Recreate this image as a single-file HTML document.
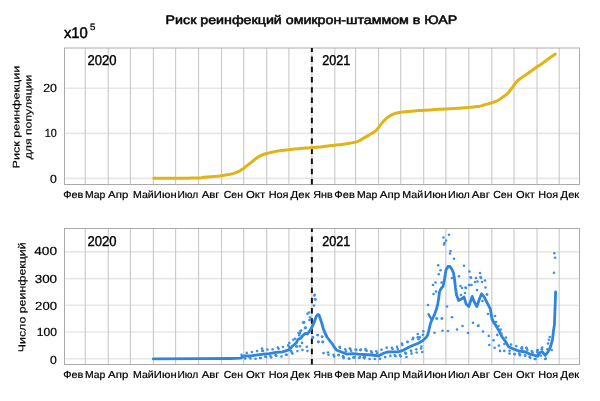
<!DOCTYPE html><html><head><meta charset="utf-8"><style>html,body{margin:0;padding:0;background:#fff;overflow:hidden}svg{display:block;will-change:transform}text{text-rendering:geometricPrecision}</style></head><body><svg xmlns="http://www.w3.org/2000/svg" width="600" height="401" viewBox="0 0 600 401">
<rect width="600" height="401" fill="#fff"/>
<text x="165.6" y="23.8" font-family="'Liberation Sans', 'DejaVu Sans', sans-serif" font-size="12.2" fill="#000" stroke="#111" stroke-width="0.55" textLength="291.6" lengthAdjust="spacingAndGlyphs">Риск реинфекций омикрон-штаммом в ЮАР</text>
<text x="63.9" y="38.1" font-family="'Liberation Sans', Arial, sans-serif" font-size="15.4" fill="#000" stroke="#000" stroke-width="0.45" textLength="24.0" lengthAdjust="spacingAndGlyphs">x10</text>
<text x="90.0" y="30.0" font-family="'Liberation Sans', Arial, sans-serif" font-size="9.4" fill="#000" stroke="#000" stroke-width="0.3" textLength="5.4" lengthAdjust="spacingAndGlyphs">5</text>
<line x1="64.5" y1="178.4" x2="579.5" y2="178.4" stroke="#e8e8e8" stroke-width="1.6"/>
<line x1="64.5" y1="133.35" x2="579.5" y2="133.35" stroke="#e8e8e8" stroke-width="1.6"/>
<line x1="64.5" y1="88.3" x2="579.5" y2="88.3" stroke="#e8e8e8" stroke-width="1.6"/>
<line x1="85.27" y1="48" x2="85.27" y2="184.5" stroke="#c8c8c8" stroke-width="1.1"/>
<line x1="108.23" y1="48" x2="108.23" y2="184.5" stroke="#c8c8c8" stroke-width="1.1"/>
<line x1="130.44" y1="48" x2="130.44" y2="184.5" stroke="#c8c8c8" stroke-width="1.1"/>
<line x1="153.4" y1="48" x2="153.4" y2="184.5" stroke="#c8c8c8" stroke-width="1.1"/>
<line x1="175.62" y1="48" x2="175.62" y2="184.5" stroke="#c8c8c8" stroke-width="1.1"/>
<line x1="198.57" y1="48" x2="198.57" y2="184.5" stroke="#c8c8c8" stroke-width="1.1"/>
<line x1="221.53" y1="48" x2="221.53" y2="184.5" stroke="#c8c8c8" stroke-width="1.1"/>
<line x1="243.74" y1="48" x2="243.74" y2="184.5" stroke="#c8c8c8" stroke-width="1.1"/>
<line x1="266.7" y1="48" x2="266.7" y2="184.5" stroke="#c8c8c8" stroke-width="1.1"/>
<line x1="288.91" y1="48" x2="288.91" y2="184.5" stroke="#c8c8c8" stroke-width="1.1"/>
<line x1="311.87" y1="48" x2="311.87" y2="184.5" stroke="#c8c8c8" stroke-width="1.1"/>
<line x1="334.82" y1="48" x2="334.82" y2="184.5" stroke="#c8c8c8" stroke-width="1.1"/>
<line x1="355.56" y1="48" x2="355.56" y2="184.5" stroke="#c8c8c8" stroke-width="1.1"/>
<line x1="378.51" y1="48" x2="378.51" y2="184.5" stroke="#c8c8c8" stroke-width="1.1"/>
<line x1="400.73" y1="48" x2="400.73" y2="184.5" stroke="#c8c8c8" stroke-width="1.1"/>
<line x1="423.68" y1="48" x2="423.68" y2="184.5" stroke="#c8c8c8" stroke-width="1.1"/>
<line x1="445.9" y1="48" x2="445.9" y2="184.5" stroke="#c8c8c8" stroke-width="1.1"/>
<line x1="468.85" y1="48" x2="468.85" y2="184.5" stroke="#c8c8c8" stroke-width="1.1"/>
<line x1="491.81" y1="48" x2="491.81" y2="184.5" stroke="#c8c8c8" stroke-width="1.1"/>
<line x1="514.02" y1="48" x2="514.02" y2="184.5" stroke="#c8c8c8" stroke-width="1.1"/>
<line x1="536.98" y1="48" x2="536.98" y2="184.5" stroke="#c8c8c8" stroke-width="1.1"/>
<line x1="559.19" y1="48" x2="559.19" y2="184.5" stroke="#c8c8c8" stroke-width="1.1"/>
<rect x="64.5" y="48" width="515" height="136.5" fill="none" stroke="#aaaaaa" stroke-width="1.0"/>
<line x1="64.5" y1="358.75" x2="579.5" y2="358.75" stroke="#e8e8e8" stroke-width="1.6"/>
<line x1="64.5" y1="332.03" x2="579.5" y2="332.03" stroke="#e8e8e8" stroke-width="1.6"/>
<line x1="64.5" y1="305.31" x2="579.5" y2="305.31" stroke="#e8e8e8" stroke-width="1.6"/>
<line x1="64.5" y1="278.59" x2="579.5" y2="278.59" stroke="#e8e8e8" stroke-width="1.6"/>
<line x1="64.5" y1="251.87" x2="579.5" y2="251.87" stroke="#e8e8e8" stroke-width="1.6"/>
<line x1="85.27" y1="228.5" x2="85.27" y2="364.5" stroke="#c8c8c8" stroke-width="1.1"/>
<line x1="108.23" y1="228.5" x2="108.23" y2="364.5" stroke="#c8c8c8" stroke-width="1.1"/>
<line x1="130.44" y1="228.5" x2="130.44" y2="364.5" stroke="#c8c8c8" stroke-width="1.1"/>
<line x1="153.4" y1="228.5" x2="153.4" y2="364.5" stroke="#c8c8c8" stroke-width="1.1"/>
<line x1="175.62" y1="228.5" x2="175.62" y2="364.5" stroke="#c8c8c8" stroke-width="1.1"/>
<line x1="198.57" y1="228.5" x2="198.57" y2="364.5" stroke="#c8c8c8" stroke-width="1.1"/>
<line x1="221.53" y1="228.5" x2="221.53" y2="364.5" stroke="#c8c8c8" stroke-width="1.1"/>
<line x1="243.74" y1="228.5" x2="243.74" y2="364.5" stroke="#c8c8c8" stroke-width="1.1"/>
<line x1="266.7" y1="228.5" x2="266.7" y2="364.5" stroke="#c8c8c8" stroke-width="1.1"/>
<line x1="288.91" y1="228.5" x2="288.91" y2="364.5" stroke="#c8c8c8" stroke-width="1.1"/>
<line x1="311.87" y1="228.5" x2="311.87" y2="364.5" stroke="#c8c8c8" stroke-width="1.1"/>
<line x1="334.82" y1="228.5" x2="334.82" y2="364.5" stroke="#c8c8c8" stroke-width="1.1"/>
<line x1="355.56" y1="228.5" x2="355.56" y2="364.5" stroke="#c8c8c8" stroke-width="1.1"/>
<line x1="378.51" y1="228.5" x2="378.51" y2="364.5" stroke="#c8c8c8" stroke-width="1.1"/>
<line x1="400.73" y1="228.5" x2="400.73" y2="364.5" stroke="#c8c8c8" stroke-width="1.1"/>
<line x1="423.68" y1="228.5" x2="423.68" y2="364.5" stroke="#c8c8c8" stroke-width="1.1"/>
<line x1="445.9" y1="228.5" x2="445.9" y2="364.5" stroke="#c8c8c8" stroke-width="1.1"/>
<line x1="468.85" y1="228.5" x2="468.85" y2="364.5" stroke="#c8c8c8" stroke-width="1.1"/>
<line x1="491.81" y1="228.5" x2="491.81" y2="364.5" stroke="#c8c8c8" stroke-width="1.1"/>
<line x1="514.02" y1="228.5" x2="514.02" y2="364.5" stroke="#c8c8c8" stroke-width="1.1"/>
<line x1="536.98" y1="228.5" x2="536.98" y2="364.5" stroke="#c8c8c8" stroke-width="1.1"/>
<line x1="559.19" y1="228.5" x2="559.19" y2="364.5" stroke="#c8c8c8" stroke-width="1.1"/>
<rect x="64.5" y="228.5" width="515" height="136" fill="none" stroke="#aaaaaa" stroke-width="1.0"/>
<text x="56.85" y="91.77" text-anchor="end" font-family="'Liberation Sans', 'DejaVu Sans', sans-serif" font-size="11.8" fill="#000" stroke="#000" stroke-width="0.2" textLength="13.7" lengthAdjust="spacingAndGlyphs">20</text>
<text x="56.83" y="136.94" text-anchor="end" font-family="'Liberation Sans', 'DejaVu Sans', sans-serif" font-size="11.8" fill="#000" stroke="#000" stroke-width="0.2" textLength="12" lengthAdjust="spacingAndGlyphs">10</text>
<text x="56.85" y="182.9" text-anchor="end" font-family="'Liberation Sans', 'DejaVu Sans', sans-serif" font-size="11.8" fill="#000" stroke="#000" stroke-width="0.2" textLength="6.8" lengthAdjust="spacingAndGlyphs">0</text>
<text x="57.04" y="255.27" text-anchor="end" font-family="'Liberation Sans', 'DejaVu Sans', sans-serif" font-size="11.8" fill="#000" stroke="#000" stroke-width="0.2" textLength="22.79" lengthAdjust="spacingAndGlyphs">400</text>
<text x="57.09" y="283.03" text-anchor="end" font-family="'Liberation Sans', 'DejaVu Sans', sans-serif" font-size="11.8" fill="#000" stroke="#000" stroke-width="0.2" textLength="22.4" lengthAdjust="spacingAndGlyphs">300</text>
<text x="56.92" y="309.72" text-anchor="end" font-family="'Liberation Sans', 'DejaVu Sans', sans-serif" font-size="11.8" fill="#000" stroke="#000" stroke-width="0.2" textLength="21.79" lengthAdjust="spacingAndGlyphs">200</text>
<text x="56.93" y="335.76" text-anchor="end" font-family="'Liberation Sans', 'DejaVu Sans', sans-serif" font-size="11.8" fill="#000" stroke="#000" stroke-width="0.2" textLength="20.23" lengthAdjust="spacingAndGlyphs">100</text>
<text x="56.85" y="364.4" text-anchor="end" font-family="'Liberation Sans', 'DejaVu Sans', sans-serif" font-size="11.8" fill="#000" stroke="#000" stroke-width="0.2" textLength="6.8" lengthAdjust="spacingAndGlyphs">0</text>
<text x="73.27" y="197.7" text-anchor="middle" font-family="'Liberation Sans', 'DejaVu Sans', sans-serif" font-size="10.2" fill="#000" stroke="#000" stroke-width="0.2" textLength="20.17" lengthAdjust="spacingAndGlyphs">Фев</text>
<text x="95.16" y="197.7" text-anchor="middle" font-family="'Liberation Sans', 'DejaVu Sans', sans-serif" font-size="10.2" fill="#000" stroke="#000" stroke-width="0.2" textLength="20.37" lengthAdjust="spacingAndGlyphs">Мар</text>
<text x="118.22" y="197.7" text-anchor="middle" font-family="'Liberation Sans', 'DejaVu Sans', sans-serif" font-size="10.2" fill="#000" stroke="#000" stroke-width="0.2" textLength="20.21" lengthAdjust="spacingAndGlyphs">Апр</text>
<text x="143.35" y="197.7" text-anchor="middle" font-family="'Liberation Sans', 'DejaVu Sans', sans-serif" font-size="10.2" fill="#000" stroke="#000" stroke-width="0.2" textLength="20.74" lengthAdjust="spacingAndGlyphs">Май</text>
<text x="165.25" y="197.7" text-anchor="middle" font-family="'Liberation Sans', 'DejaVu Sans', sans-serif" font-size="10.2" fill="#000" stroke="#000" stroke-width="0.2" textLength="22.73" lengthAdjust="spacingAndGlyphs">Июн</text>
<text x="187.86" y="197.7" text-anchor="middle" font-family="'Liberation Sans', 'DejaVu Sans', sans-serif" font-size="10.2" fill="#000" stroke="#000" stroke-width="0.2" textLength="20.8" lengthAdjust="spacingAndGlyphs">Июл</text>
<text x="210.55" y="197.7" text-anchor="middle" font-family="'Liberation Sans', 'DejaVu Sans', sans-serif" font-size="10.2" fill="#000" stroke="#000" stroke-width="0.2" textLength="17.85" lengthAdjust="spacingAndGlyphs">Авг</text>
<text x="233.36" y="197.7" text-anchor="middle" font-family="'Liberation Sans', 'DejaVu Sans', sans-serif" font-size="10.2" fill="#000" stroke="#000" stroke-width="0.2" textLength="19.14" lengthAdjust="spacingAndGlyphs">Сен</text>
<text x="255.57" y="197.7" text-anchor="middle" font-family="'Liberation Sans', 'DejaVu Sans', sans-serif" font-size="10.2" fill="#000" stroke="#000" stroke-width="0.2" textLength="19.11" lengthAdjust="spacingAndGlyphs">Окт</text>
<text x="278.59" y="197.7" text-anchor="middle" font-family="'Liberation Sans', 'DejaVu Sans', sans-serif" font-size="10.2" fill="#000" stroke="#000" stroke-width="0.2" textLength="19.93" lengthAdjust="spacingAndGlyphs">Ноя</text>
<text x="300.12" y="197.7" text-anchor="middle" font-family="'Liberation Sans', 'DejaVu Sans', sans-serif" font-size="10.2" fill="#000" stroke="#000" stroke-width="0.2" textLength="19.02" lengthAdjust="spacingAndGlyphs">Дек</text>
<text x="322.94" y="197.7" text-anchor="middle" font-family="'Liberation Sans', 'DejaVu Sans', sans-serif" font-size="10.2" fill="#000" stroke="#000" stroke-width="0.2" textLength="19.29" lengthAdjust="spacingAndGlyphs">Янв</text>
<text x="344.64" y="197.7" text-anchor="middle" font-family="'Liberation Sans', 'DejaVu Sans', sans-serif" font-size="10.2" fill="#000" stroke="#000" stroke-width="0.2" textLength="20.5" lengthAdjust="spacingAndGlyphs">Фев</text>
<text x="367.18" y="197.7" text-anchor="middle" font-family="'Liberation Sans', 'DejaVu Sans', sans-serif" font-size="10.2" fill="#000" stroke="#000" stroke-width="0.2" textLength="20.49" lengthAdjust="spacingAndGlyphs">Мар</text>
<text x="389.93" y="197.7" text-anchor="middle" font-family="'Liberation Sans', 'DejaVu Sans', sans-serif" font-size="10.2" fill="#000" stroke="#000" stroke-width="0.2" textLength="20.33" lengthAdjust="spacingAndGlyphs">Апр</text>
<text x="412.8" y="197.7" text-anchor="middle" font-family="'Liberation Sans', 'DejaVu Sans', sans-serif" font-size="10.2" fill="#000" stroke="#000" stroke-width="0.2" textLength="20.9" lengthAdjust="spacingAndGlyphs">Май</text>
<text x="435.45" y="197.7" text-anchor="middle" font-family="'Liberation Sans', 'DejaVu Sans', sans-serif" font-size="10.2" fill="#000" stroke="#000" stroke-width="0.2" textLength="22.83" lengthAdjust="spacingAndGlyphs">Июн</text>
<text x="458.85" y="197.7" text-anchor="middle" font-family="'Liberation Sans', 'DejaVu Sans', sans-serif" font-size="10.2" fill="#000" stroke="#000" stroke-width="0.2" textLength="21.81" lengthAdjust="spacingAndGlyphs">Июл</text>
<text x="480.89" y="197.7" text-anchor="middle" font-family="'Liberation Sans', 'DejaVu Sans', sans-serif" font-size="10.2" fill="#000" stroke="#000" stroke-width="0.2" textLength="18.02" lengthAdjust="spacingAndGlyphs">Авг</text>
<text x="502.89" y="197.7" text-anchor="middle" font-family="'Liberation Sans', 'DejaVu Sans', sans-serif" font-size="10.2" fill="#000" stroke="#000" stroke-width="0.2" textLength="19.32" lengthAdjust="spacingAndGlyphs">Сен</text>
<text x="525.46" y="197.7" text-anchor="middle" font-family="'Liberation Sans', 'DejaVu Sans', sans-serif" font-size="10.2" fill="#000" stroke="#000" stroke-width="0.2" textLength="18.71" lengthAdjust="spacingAndGlyphs">Окт</text>
<text x="548.19" y="197.7" text-anchor="middle" font-family="'Liberation Sans', 'DejaVu Sans', sans-serif" font-size="10.2" fill="#000" stroke="#000" stroke-width="0.2" textLength="19.68" lengthAdjust="spacingAndGlyphs">Ноя</text>
<text x="569.93" y="197.7" text-anchor="middle" font-family="'Liberation Sans', 'DejaVu Sans', sans-serif" font-size="10.2" fill="#000" stroke="#000" stroke-width="0.2" textLength="18.59" lengthAdjust="spacingAndGlyphs">Дек</text>
<text x="73.27" y="378" text-anchor="middle" font-family="'Liberation Sans', 'DejaVu Sans', sans-serif" font-size="10.2" fill="#000" stroke="#000" stroke-width="0.2" textLength="20.17" lengthAdjust="spacingAndGlyphs">Фев</text>
<text x="95.16" y="378" text-anchor="middle" font-family="'Liberation Sans', 'DejaVu Sans', sans-serif" font-size="10.2" fill="#000" stroke="#000" stroke-width="0.2" textLength="20.37" lengthAdjust="spacingAndGlyphs">Мар</text>
<text x="118.22" y="378" text-anchor="middle" font-family="'Liberation Sans', 'DejaVu Sans', sans-serif" font-size="10.2" fill="#000" stroke="#000" stroke-width="0.2" textLength="20.21" lengthAdjust="spacingAndGlyphs">Апр</text>
<text x="143.35" y="378" text-anchor="middle" font-family="'Liberation Sans', 'DejaVu Sans', sans-serif" font-size="10.2" fill="#000" stroke="#000" stroke-width="0.2" textLength="20.74" lengthAdjust="spacingAndGlyphs">Май</text>
<text x="165.25" y="378" text-anchor="middle" font-family="'Liberation Sans', 'DejaVu Sans', sans-serif" font-size="10.2" fill="#000" stroke="#000" stroke-width="0.2" textLength="22.73" lengthAdjust="spacingAndGlyphs">Июн</text>
<text x="187.86" y="378" text-anchor="middle" font-family="'Liberation Sans', 'DejaVu Sans', sans-serif" font-size="10.2" fill="#000" stroke="#000" stroke-width="0.2" textLength="20.8" lengthAdjust="spacingAndGlyphs">Июл</text>
<text x="210.55" y="378" text-anchor="middle" font-family="'Liberation Sans', 'DejaVu Sans', sans-serif" font-size="10.2" fill="#000" stroke="#000" stroke-width="0.2" textLength="17.85" lengthAdjust="spacingAndGlyphs">Авг</text>
<text x="233.36" y="378" text-anchor="middle" font-family="'Liberation Sans', 'DejaVu Sans', sans-serif" font-size="10.2" fill="#000" stroke="#000" stroke-width="0.2" textLength="19.14" lengthAdjust="spacingAndGlyphs">Сен</text>
<text x="255.57" y="378" text-anchor="middle" font-family="'Liberation Sans', 'DejaVu Sans', sans-serif" font-size="10.2" fill="#000" stroke="#000" stroke-width="0.2" textLength="19.11" lengthAdjust="spacingAndGlyphs">Окт</text>
<text x="278.59" y="378" text-anchor="middle" font-family="'Liberation Sans', 'DejaVu Sans', sans-serif" font-size="10.2" fill="#000" stroke="#000" stroke-width="0.2" textLength="19.93" lengthAdjust="spacingAndGlyphs">Ноя</text>
<text x="300.12" y="378" text-anchor="middle" font-family="'Liberation Sans', 'DejaVu Sans', sans-serif" font-size="10.2" fill="#000" stroke="#000" stroke-width="0.2" textLength="19.02" lengthAdjust="spacingAndGlyphs">Дек</text>
<text x="322.94" y="378" text-anchor="middle" font-family="'Liberation Sans', 'DejaVu Sans', sans-serif" font-size="10.2" fill="#000" stroke="#000" stroke-width="0.2" textLength="19.29" lengthAdjust="spacingAndGlyphs">Янв</text>
<text x="344.64" y="378" text-anchor="middle" font-family="'Liberation Sans', 'DejaVu Sans', sans-serif" font-size="10.2" fill="#000" stroke="#000" stroke-width="0.2" textLength="20.5" lengthAdjust="spacingAndGlyphs">Фев</text>
<text x="367.18" y="378" text-anchor="middle" font-family="'Liberation Sans', 'DejaVu Sans', sans-serif" font-size="10.2" fill="#000" stroke="#000" stroke-width="0.2" textLength="20.49" lengthAdjust="spacingAndGlyphs">Мар</text>
<text x="389.93" y="378" text-anchor="middle" font-family="'Liberation Sans', 'DejaVu Sans', sans-serif" font-size="10.2" fill="#000" stroke="#000" stroke-width="0.2" textLength="20.33" lengthAdjust="spacingAndGlyphs">Апр</text>
<text x="412.8" y="378" text-anchor="middle" font-family="'Liberation Sans', 'DejaVu Sans', sans-serif" font-size="10.2" fill="#000" stroke="#000" stroke-width="0.2" textLength="20.9" lengthAdjust="spacingAndGlyphs">Май</text>
<text x="435.45" y="378" text-anchor="middle" font-family="'Liberation Sans', 'DejaVu Sans', sans-serif" font-size="10.2" fill="#000" stroke="#000" stroke-width="0.2" textLength="22.83" lengthAdjust="spacingAndGlyphs">Июн</text>
<text x="458.85" y="378" text-anchor="middle" font-family="'Liberation Sans', 'DejaVu Sans', sans-serif" font-size="10.2" fill="#000" stroke="#000" stroke-width="0.2" textLength="21.81" lengthAdjust="spacingAndGlyphs">Июл</text>
<text x="480.89" y="378" text-anchor="middle" font-family="'Liberation Sans', 'DejaVu Sans', sans-serif" font-size="10.2" fill="#000" stroke="#000" stroke-width="0.2" textLength="18.02" lengthAdjust="spacingAndGlyphs">Авг</text>
<text x="502.89" y="378" text-anchor="middle" font-family="'Liberation Sans', 'DejaVu Sans', sans-serif" font-size="10.2" fill="#000" stroke="#000" stroke-width="0.2" textLength="19.32" lengthAdjust="spacingAndGlyphs">Сен</text>
<text x="525.46" y="378" text-anchor="middle" font-family="'Liberation Sans', 'DejaVu Sans', sans-serif" font-size="10.2" fill="#000" stroke="#000" stroke-width="0.2" textLength="18.71" lengthAdjust="spacingAndGlyphs">Окт</text>
<text x="548.19" y="378" text-anchor="middle" font-family="'Liberation Sans', 'DejaVu Sans', sans-serif" font-size="10.2" fill="#000" stroke="#000" stroke-width="0.2" textLength="19.68" lengthAdjust="spacingAndGlyphs">Ноя</text>
<text x="569.93" y="378" text-anchor="middle" font-family="'Liberation Sans', 'DejaVu Sans', sans-serif" font-size="10.2" fill="#000" stroke="#000" stroke-width="0.2" textLength="18.59" lengthAdjust="spacingAndGlyphs">Дек</text>
<text x="87.6" y="65.1" font-family="'Liberation Sans', Arial, sans-serif" font-size="14.2" fill="#000" stroke="#000" stroke-width="0.4" textLength="29.0" lengthAdjust="spacingAndGlyphs">2020</text>
<text x="322.2" y="65.1" font-family="'Liberation Sans', Arial, sans-serif" font-size="14.2" fill="#000" stroke="#000" stroke-width="0.4" textLength="28.0" lengthAdjust="spacingAndGlyphs">2021</text>
<text x="87.6" y="245.6" font-family="'Liberation Sans', Arial, sans-serif" font-size="14.2" fill="#000" stroke="#000" stroke-width="0.4" textLength="29.0" lengthAdjust="spacingAndGlyphs">2020</text>
<text x="322.2" y="245.6" font-family="'Liberation Sans', Arial, sans-serif" font-size="14.2" fill="#000" stroke="#000" stroke-width="0.4" textLength="28.0" lengthAdjust="spacingAndGlyphs">2021</text>
<text transform="translate(19.55,117.1) rotate(-89.97)" text-anchor="middle" font-family="'Liberation Sans', 'DejaVu Sans', sans-serif" font-size="9.6" fill="#000" stroke="#000" stroke-width="0.15" textLength="102.7" lengthAdjust="spacingAndGlyphs">Риск реинфекции</text>
<text transform="translate(31.6,117) rotate(-89.97)" text-anchor="middle" font-family="'Liberation Sans', 'DejaVu Sans', sans-serif" font-size="9.6" fill="#000" stroke="#000" stroke-width="0.15" textLength="84.6" lengthAdjust="spacingAndGlyphs">для популяции</text>
<text transform="translate(25.5,297.35) rotate(-89.97)" text-anchor="middle" font-family="'Liberation Sans', 'DejaVu Sans', sans-serif" font-size="10.2" fill="#000" stroke="#000" stroke-width="0.15" textLength="109.85" lengthAdjust="spacingAndGlyphs">Число реинфекций</text>
<line x1="311.87" y1="184.5" x2="311.87" y2="48" stroke="#111" stroke-width="2" stroke-dasharray="5.5 4.7"/>
<line x1="311.87" y1="364.5" x2="311.87" y2="228.5" stroke="#111" stroke-width="2" stroke-dasharray="5.5 4.7"/>
<path d="M153.8,178.3 L156.09,178.29 L159.23,178.28 L162.96,178.26 L167.01,178.24 L171.12,178.22 L175,178.2 L178.91,178.18 L183.13,178.16 L187.39,178.14 L191.45,178.11 L195.07,178.07 L198,178 L200.06,177.9 L201.41,177.77 L202.31,177.63 L203.04,177.48 L203.84,177.33 L205,177.2 L206.54,177.08 L208.25,176.96 L210.04,176.85 L211.83,176.74 L213.51,176.62 L215,176.5 L216.24,176.38 L217.29,176.26 L218.23,176.14 L219.16,176.01 L220.15,175.87 L221.3,175.7 L222.63,175.51 L224.09,175.3 L225.61,175.08 L227.14,174.84 L228.62,174.58 L230,174.3 L231.27,174.01 L232.49,173.7 L233.66,173.38 L234.79,173.03 L235.9,172.64 L237,172.2 L238.11,171.69 L239.21,171.12 L240.3,170.51 L241.34,169.88 L242.31,169.27 L243.2,168.7 L243.97,168.18 L244.63,167.68 L245.22,167.19 L245.79,166.71 L246.37,166.22 L247,165.7 L247.69,165.15 L248.42,164.58 L249.16,164 L249.89,163.42 L250.61,162.85 L251.3,162.3 L251.96,161.77 L252.59,161.24 L253.21,160.73 L253.82,160.23 L254.41,159.75 L255,159.3 L255.57,158.87 L256.11,158.47 L256.65,158.09 L257.19,157.72 L257.73,157.36 L258.3,157 L258.88,156.64 L259.47,156.29 L260.08,155.95 L260.69,155.62 L261.33,155.3 L262,155 L262.66,154.73 L263.3,154.48 L263.97,154.24 L264.7,154.01 L265.53,153.77 L266.5,153.5 L267.67,153.2 L269.03,152.86 L270.49,152.52 L271.97,152.18 L273.4,151.87 L274.7,151.6 L275.84,151.38 L276.88,151.2 L277.86,151.04 L278.84,150.89 L279.87,150.75 L281,150.6 L282.2,150.45 L283.43,150.3 L284.71,150.16 L286.05,150.02 L287.47,149.87 L289,149.7 L290.65,149.51 L292.43,149.31 L294.28,149.09 L296.19,148.88 L298.1,148.68 L300,148.5 L301.92,148.34 L303.91,148.2 L305.91,148.07 L307.87,147.94 L309.75,147.82 L311.5,147.7 L313.13,147.58 L314.69,147.46 L316.16,147.34 L317.54,147.23 L318.82,147.12 L320,147 L320.98,146.89 L321.74,146.78 L322.41,146.68 L323.09,146.56 L323.92,146.44 L325,146.3 L326.38,146.14 L327.96,145.97 L329.69,145.78 L331.48,145.59 L333.28,145.39 L335,145.2 L336.67,145.01 L338.33,144.83 L340,144.64 L341.67,144.45 L343.33,144.24 L345,144 L346.72,143.74 L348.52,143.45 L350.31,143.14 L352.04,142.83 L353.62,142.51 L355,142.2 L356.12,141.9 L357.04,141.61 L357.81,141.32 L358.52,141.01 L359.22,140.68 L360,140.3 L360.83,139.87 L361.67,139.41 L362.5,138.91 L363.33,138.4 L364.17,137.89 L365,137.4 L365.84,136.91 L366.7,136.42 L367.56,135.92 L368.41,135.44 L369.22,134.96 L370,134.5 L370.75,134.05 L371.48,133.6 L372.19,133.16 L372.85,132.74 L373.46,132.35 L374,132 L374.44,131.71 L374.79,131.49 L375.08,131.29 L375.36,131.09 L375.65,130.84 L376,130.5 L376.41,130.07 L376.84,129.58 L377.3,129.04 L377.77,128.47 L378.24,127.88 L378.7,127.3 L379.16,126.7 L379.64,126.07 L380.11,125.42 L380.59,124.79 L381.05,124.17 L381.5,123.6 L381.93,123.08 L382.34,122.6 L382.74,122.15 L383.14,121.71 L383.56,121.26 L384,120.8 L384.46,120.32 L384.94,119.83 L385.43,119.33 L385.93,118.84 L386.45,118.36 L387,117.9 L387.58,117.45 L388.2,117 L388.83,116.57 L389.47,116.15 L390.1,115.76 L390.7,115.4 L391.27,115.07 L391.83,114.77 L392.37,114.5 L392.91,114.25 L393.45,114.02 L394,113.8 L394.53,113.61 L395.02,113.45 L395.52,113.31 L396.04,113.17 L396.63,113.04 L397.3,112.9 L398.06,112.75 L398.87,112.59 L399.75,112.44 L400.68,112.29 L401.67,112.14 L402.7,112 L403.78,111.87 L404.89,111.76 L406.06,111.64 L407.3,111.53 L408.61,111.42 L410,111.3 L411.51,111.17 L413.13,111.03 L414.83,110.89 L416.57,110.75 L418.3,110.62 L420,110.5 L421.72,110.4 L423.52,110.31 L425.31,110.23 L427.04,110.16 L428.62,110.08 L430,110 L431.06,109.92 L431.83,109.83 L432.47,109.75 L433.11,109.67 L433.91,109.58 L435,109.5 L436.44,109.42 L438.13,109.33 L439.97,109.25 L441.87,109.17 L443.74,109.08 L445.5,109 L447.09,108.92 L448.59,108.85 L450.06,108.78 L451.57,108.7 L453.2,108.61 L455,108.5 L457.1,108.36 L459.46,108.19 L461.94,108.01 L464.37,107.83 L466.61,107.66 L468.5,107.5 L470.01,107.37 L471.24,107.24 L472.28,107.13 L473.2,107.02 L474.08,106.91 L475,106.8 L475.91,106.69 L476.74,106.6 L477.53,106.51 L478.31,106.41 L479.13,106.27 L480,106.1 L480.95,105.87 L481.96,105.6 L482.99,105.29 L484.03,104.98 L485.04,104.68 L486,104.4 L486.88,104.16 L487.7,103.96 L488.49,103.76 L489.29,103.55 L490.15,103.31 L491.1,103 L492.18,102.63 L493.36,102.23 L494.59,101.78 L495.83,101.31 L497.02,100.81 L498.1,100.3 L499.08,99.76 L500,99.19 L500.86,98.6 L501.69,98 L502.5,97.39 L503.3,96.8 L504.09,96.23 L504.86,95.66 L505.61,95.1 L506.33,94.53 L507.03,93.93 L507.7,93.3 L508.35,92.62 L508.97,91.9 L509.56,91.15 L510.13,90.4 L510.68,89.68 L511.2,89 L511.67,88.38 L512.1,87.81 L512.5,87.26 L512.9,86.7 L513.33,86.13 L513.8,85.5 L514.32,84.81 L514.87,84.07 L515.44,83.3 L516.03,82.53 L516.65,81.79 L517.3,81.1 L517.99,80.45 L518.74,79.82 L519.51,79.21 L520.28,78.64 L521.02,78.1 L521.7,77.6 L522.3,77.17 L522.82,76.81 L523.32,76.49 L523.82,76.17 L524.37,75.82 L525,75.4 L525.73,74.9 L526.53,74.35 L527.38,73.77 L528.24,73.17 L529.09,72.57 L529.9,72 L530.69,71.43 L531.49,70.85 L532.27,70.27 L533.03,69.71 L533.74,69.18 L534.4,68.7 L534.98,68.29 L535.48,67.93 L535.94,67.6 L536.39,67.29 L536.87,66.96 L537.4,66.6 L538,66.21 L538.65,65.8 L539.32,65.38 L540,64.96 L540.66,64.53 L541.3,64.1 L541.9,63.68 L542.46,63.26 L543.02,62.84 L543.58,62.41 L544.17,61.97 L544.8,61.5 L545.49,60.99 L546.23,60.45 L547,59.89 L547.77,59.34 L548.51,58.8 L549.2,58.3 L549.85,57.83 L550.47,57.39 L551.06,56.96 L551.63,56.56 L552.18,56.17 L552.7,55.8 L553.22,55.44 L553.73,55.08 L554.22,54.74 L554.66,54.44 L555.03,54.19 L555.3,54" fill="none" stroke="#e0b416" stroke-width="3" stroke-linejoin="round" stroke-linecap="round"/>
<path d="M153.3,358.9 L200,358.7 L230,358.5 L240.5,358.2 L244,356 L247,355.8 L252.4,355.6 L258,354.8 L263.6,354.2 L269.2,353.6 L276.2,352.4 L282.5,351.8 L288.7,349.9 L292.4,346.2 L296.2,343 L298,339.4 L301,337.9 L303,335.4 L305.5,333.4 L307.5,333.9 L309,331.9 L311,328.9 L313,324.9 L315,320 L316.4,316 L318,314.5 L319,315 L320.4,319 L322,324 L323.4,329 L325,333 L327,337 L330,341 L332.4,344 L334.5,347.5 L336.9,350.3 L341.4,352 L347,354.2 L352.6,353.6 L358.2,354.2 L363.8,354.5 L371.7,355 L378.5,355.9 L382.9,353.5 L387.4,352 L393,351.8 L398,351.8 L403.1,350.3 L408.2,347.6 L413.3,345.2 L418.3,343.2 L422.6,340.8 L426,337.5 L427.7,335 L429.3,328.5 L430.6,323 L431.9,320 L434.4,314.9 L436.5,309 L437.8,303.9 L438.6,298.8 L439.5,292 L441,288.5 L443,286.5 L444.5,279 L446,270 L448,266.5 L450,266.5 L452,269.5 L453.5,273 L454.5,279 L455.5,288 L456.5,295 L458.7,300.5 L462.1,298.5 L464.1,297.1 L466.1,303.9 L468.8,306.5 L472.2,296.4 L474.2,301.8 L476.9,306.5 L479.6,298.5 L481.6,293.8 L484.3,297.1 L487.7,303.9 L490.4,309.2 L492,319 L494,323 L495.7,325.2 L498.9,330.6 L502.1,337 L505.4,341.3 L508.6,346.7 L512.9,348.8 L517.2,350.4 L521.4,351.5 L525.7,352 L530,354.2 L534.3,355.2 L537.5,356.3 L539.6,352.8 L542.4,351.8 L545.2,355.5 L548,351.8 L550.7,346.3 L552.6,338.9 L553.5,330.6 L554.4,325 L555,309 L555.6,292" fill="none" stroke="#2f84dc" stroke-width="2.8" stroke-linejoin="round" stroke-linecap="round"/>
<path d="M428.5,314.3 L431.6,319.3" fill="none" stroke="#2f84dc" stroke-width="2.4" stroke-linecap="round"/>
<circle cx="262" cy="348.6" r="1.3" fill="#3f90e0"/>
<circle cx="314.6" cy="294.8" r="1.3" fill="#3f90e0"/>
<circle cx="315" cy="299.2" r="1.3" fill="#3f90e0"/>
<circle cx="314.5" cy="295.5" r="1.3" fill="#3f90e0"/>
<circle cx="315.5" cy="299.5" r="1.3" fill="#3f90e0"/>
<circle cx="314" cy="305.5" r="1.3" fill="#3f90e0"/>
<circle cx="309" cy="312.5" r="1.3" fill="#3f90e0"/>
<circle cx="309.5" cy="320" r="1.3" fill="#3f90e0"/>
<circle cx="304" cy="322" r="1.3" fill="#3f90e0"/>
<circle cx="305.5" cy="328" r="1.3" fill="#3f90e0"/>
<circle cx="301" cy="330.5" r="1.3" fill="#3f90e0"/>
<circle cx="310" cy="320" r="1.3" fill="#3f90e0"/>
<circle cx="304" cy="322.5" r="1.3" fill="#3f90e0"/>
<circle cx="305" cy="328" r="1.3" fill="#3f90e0"/>
<circle cx="300.5" cy="331" r="1.3" fill="#3f90e0"/>
<circle cx="317.4" cy="335" r="1.3" fill="#3f90e0"/>
<circle cx="313" cy="337.4" r="1.3" fill="#3f90e0"/>
<circle cx="322" cy="336.7" r="1.3" fill="#3f90e0"/>
<circle cx="318.4" cy="341.9" r="1.3" fill="#3f90e0"/>
<circle cx="322.4" cy="342.1" r="1.3" fill="#3f90e0"/>
<circle cx="302" cy="342.9" r="1.3" fill="#3f90e0"/>
<circle cx="312.8" cy="337.4" r="1.3" fill="#3f90e0"/>
<circle cx="317.8" cy="335.1" r="1.3" fill="#3f90e0"/>
<circle cx="318.4" cy="341.9" r="1.3" fill="#3f90e0"/>
<circle cx="322.3" cy="336.8" r="1.3" fill="#3f90e0"/>
<circle cx="322.9" cy="341.9" r="1.3" fill="#3f90e0"/>
<circle cx="323.5" cy="353.1" r="1.3" fill="#3f90e0"/>
<circle cx="328" cy="352.5" r="1.3" fill="#3f90e0"/>
<circle cx="328.5" cy="354.8" r="1.3" fill="#3f90e0"/>
<circle cx="333.5" cy="354.8" r="1.3" fill="#3f90e0"/>
<circle cx="334.1" cy="356.4" r="1.3" fill="#3f90e0"/>
<circle cx="338.6" cy="354.8" r="1.3" fill="#3f90e0"/>
<circle cx="339.7" cy="346.9" r="1.3" fill="#3f90e0"/>
<circle cx="343.6" cy="358.1" r="1.3" fill="#3f90e0"/>
<circle cx="349.8" cy="348.6" r="1.3" fill="#3f90e0"/>
<circle cx="349.2" cy="358.7" r="1.3" fill="#3f90e0"/>
<circle cx="354.8" cy="357" r="1.3" fill="#3f90e0"/>
<circle cx="360.4" cy="350.3" r="1.3" fill="#3f90e0"/>
<circle cx="359.9" cy="357" r="1.3" fill="#3f90e0"/>
<circle cx="365.5" cy="349.1" r="1.3" fill="#3f90e0"/>
<circle cx="364.9" cy="357" r="1.3" fill="#3f90e0"/>
<circle cx="402" cy="343.5" r="1.3" fill="#3f90e0"/>
<circle cx="407.6" cy="341.9" r="1.3" fill="#3f90e0"/>
<circle cx="413.2" cy="337.9" r="1.3" fill="#3f90e0"/>
<circle cx="417.7" cy="334" r="1.3" fill="#3f90e0"/>
<circle cx="419.9" cy="337.4" r="1.3" fill="#3f90e0"/>
<circle cx="423.3" cy="331.2" r="1.3" fill="#3f90e0"/>
<circle cx="405.4" cy="353.1" r="1.3" fill="#3f90e0"/>
<circle cx="406.5" cy="357" r="1.3" fill="#3f90e0"/>
<circle cx="411" cy="350.8" r="1.3" fill="#3f90e0"/>
<circle cx="411.5" cy="353.6" r="1.3" fill="#3f90e0"/>
<circle cx="416.6" cy="352.5" r="1.3" fill="#3f90e0"/>
<circle cx="421" cy="348.6" r="1.3" fill="#3f90e0"/>
<circle cx="422.2" cy="352" r="1.3" fill="#3f90e0"/>
<circle cx="449" cy="234.8" r="1.3" fill="#3f90e0"/>
<circle cx="443.5" cy="237.5" r="1.3" fill="#3f90e0"/>
<circle cx="446" cy="240.5" r="1.3" fill="#3f90e0"/>
<circle cx="444.5" cy="243" r="1.3" fill="#3f90e0"/>
<circle cx="444" cy="244.5" r="1.3" fill="#3f90e0"/>
<circle cx="450.5" cy="251" r="1.3" fill="#3f90e0"/>
<circle cx="450" cy="253.5" r="1.3" fill="#3f90e0"/>
<circle cx="454" cy="258.8" r="1.3" fill="#3f90e0"/>
<circle cx="438.2" cy="265.2" r="1.3" fill="#3f90e0"/>
<circle cx="464" cy="265.8" r="1.3" fill="#3f90e0"/>
<circle cx="440.5" cy="270.2" r="1.3" fill="#3f90e0"/>
<circle cx="438.8" cy="274.2" r="1.3" fill="#3f90e0"/>
<circle cx="435.5" cy="282.5" r="1.3" fill="#3f90e0"/>
<circle cx="433" cy="285" r="1.3" fill="#3f90e0"/>
<circle cx="441.5" cy="282.5" r="1.3" fill="#3f90e0"/>
<circle cx="436" cy="291.5" r="1.3" fill="#3f90e0"/>
<circle cx="433.5" cy="294" r="1.3" fill="#3f90e0"/>
<circle cx="452" cy="278" r="1.3" fill="#3f90e0"/>
<circle cx="459" cy="276.2" r="1.3" fill="#3f90e0"/>
<circle cx="460.5" cy="286" r="1.3" fill="#3f90e0"/>
<circle cx="462" cy="288" r="1.3" fill="#3f90e0"/>
<circle cx="465.5" cy="287.5" r="1.3" fill="#3f90e0"/>
<circle cx="465" cy="293" r="1.3" fill="#3f90e0"/>
<circle cx="461" cy="295" r="1.3" fill="#3f90e0"/>
<circle cx="469.5" cy="271.5" r="1.3" fill="#3f90e0"/>
<circle cx="470.5" cy="277.5" r="1.3" fill="#3f90e0"/>
<circle cx="469.5" cy="285" r="1.3" fill="#3f90e0"/>
<circle cx="471.5" cy="285" r="1.3" fill="#3f90e0"/>
<circle cx="471" cy="277.5" r="1.3" fill="#3f90e0"/>
<circle cx="476" cy="278" r="1.3" fill="#3f90e0"/>
<circle cx="480" cy="273" r="1.3" fill="#3f90e0"/>
<circle cx="480.5" cy="277" r="1.3" fill="#3f90e0"/>
<circle cx="481" cy="278" r="1.3" fill="#3f90e0"/>
<circle cx="475" cy="282" r="1.3" fill="#3f90e0"/>
<circle cx="477.5" cy="281.5" r="1.3" fill="#3f90e0"/>
<circle cx="482" cy="282" r="1.3" fill="#3f90e0"/>
<circle cx="485" cy="280.5" r="1.3" fill="#3f90e0"/>
<circle cx="469" cy="285" r="1.3" fill="#3f90e0"/>
<circle cx="466" cy="288" r="1.3" fill="#3f90e0"/>
<circle cx="477" cy="290" r="1.3" fill="#3f90e0"/>
<circle cx="485.5" cy="287.5" r="1.3" fill="#3f90e0"/>
<circle cx="487" cy="294.5" r="1.3" fill="#3f90e0"/>
<circle cx="428" cy="305" r="1.3" fill="#3f90e0"/>
<circle cx="447" cy="306.5" r="1.3" fill="#3f90e0"/>
<circle cx="436.5" cy="318.5" r="1.3" fill="#3f90e0"/>
<circle cx="442" cy="318.5" r="1.3" fill="#3f90e0"/>
<circle cx="452" cy="317.2" r="1.3" fill="#3f90e0"/>
<circle cx="473" cy="322.8" r="1.3" fill="#3f90e0"/>
<circle cx="478" cy="326" r="1.3" fill="#3f90e0"/>
<circle cx="462.5" cy="326" r="1.3" fill="#3f90e0"/>
<circle cx="457" cy="329.5" r="1.3" fill="#3f90e0"/>
<circle cx="442.5" cy="330.8" r="1.3" fill="#3f90e0"/>
<circle cx="448" cy="331" r="1.3" fill="#3f90e0"/>
<circle cx="434.5" cy="332.8" r="1.3" fill="#3f90e0"/>
<circle cx="468" cy="333" r="1.3" fill="#3f90e0"/>
<circle cx="483" cy="331.5" r="1.3" fill="#3f90e0"/>
<circle cx="437" cy="318.5" r="1.3" fill="#3f90e0"/>
<circle cx="441.8" cy="318.5" r="1.3" fill="#3f90e0"/>
<circle cx="487" cy="294.5" r="1.3" fill="#3f90e0"/>
<circle cx="482.5" cy="301" r="1.3" fill="#3f90e0"/>
<circle cx="488" cy="314" r="1.3" fill="#3f90e0"/>
<circle cx="495" cy="316" r="1.3" fill="#3f90e0"/>
<circle cx="496" cy="322" r="1.3" fill="#3f90e0"/>
<circle cx="498.5" cy="326" r="1.3" fill="#3f90e0"/>
<circle cx="478.5" cy="325.5" r="1.3" fill="#3f90e0"/>
<circle cx="488.8" cy="335.9" r="1.3" fill="#3f90e0"/>
<circle cx="493.6" cy="340.2" r="1.3" fill="#3f90e0"/>
<circle cx="489.3" cy="345" r="1.3" fill="#3f90e0"/>
<circle cx="494.6" cy="347.7" r="1.3" fill="#3f90e0"/>
<circle cx="498.9" cy="345.6" r="1.3" fill="#3f90e0"/>
<circle cx="500" cy="350.9" r="1.3" fill="#3f90e0"/>
<circle cx="504.3" cy="350.9" r="1.3" fill="#3f90e0"/>
<circle cx="497.3" cy="334.9" r="1.3" fill="#3f90e0"/>
<circle cx="509.6" cy="353.6" r="1.3" fill="#3f90e0"/>
<circle cx="514.5" cy="354.1" r="1.3" fill="#3f90e0"/>
<circle cx="519.8" cy="354.7" r="1.3" fill="#3f90e0"/>
<circle cx="522" cy="347.2" r="1.3" fill="#3f90e0"/>
<circle cx="526.3" cy="347.7" r="1.3" fill="#3f90e0"/>
<circle cx="525.2" cy="355.2" r="1.3" fill="#3f90e0"/>
<circle cx="537.5" cy="350.4" r="1.3" fill="#3f90e0"/>
<circle cx="541.8" cy="349.3" r="1.3" fill="#3f90e0"/>
<circle cx="554.3" cy="253.2" r="1.3" fill="#3f90e0"/>
<circle cx="555.2" cy="257.7" r="1.3" fill="#3f90e0"/>
<circle cx="554" cy="272.7" r="1.3" fill="#3f90e0"/>
<circle cx="549.8" cy="337" r="1.3" fill="#3f90e0"/>
<circle cx="548.9" cy="339.8" r="1.3" fill="#3f90e0"/>
<circle cx="548" cy="343.5" r="1.3" fill="#3f90e0"/>
<circle cx="551.7" cy="350" r="1.3" fill="#3f90e0"/>
<circle cx="541.9" cy="349.5" r="1.3" fill="#3f90e0"/>
<circle cx="537.8" cy="350" r="1.3" fill="#3f90e0"/>
<circle cx="289.3" cy="343" r="1.3" fill="#3f90e0"/>
<circle cx="295" cy="338.7" r="1.3" fill="#3f90e0"/>
<circle cx="300" cy="333" r="1.3" fill="#3f90e0"/>
<circle cx="303" cy="322.5" r="1.3" fill="#3f90e0"/>
<circle cx="305.5" cy="327.5" r="1.3" fill="#3f90e0"/>
<circle cx="307.4" cy="313.7" r="1.3" fill="#3f90e0"/>
<circle cx="310" cy="317.5" r="1.3" fill="#3f90e0"/>
<circle cx="292.4" cy="353.6" r="1.3" fill="#3f90e0"/>
<circle cx="297.4" cy="351.1" r="1.3" fill="#3f90e0"/>
<circle cx="300" cy="346.2" r="1.3" fill="#3f90e0"/>
<circle cx="302.4" cy="349.9" r="1.3" fill="#3f90e0"/>
<circle cx="306.8" cy="346.8" r="1.3" fill="#3f90e0"/>
<circle cx="307.4" cy="351.1" r="1.3" fill="#3f90e0"/>
<circle cx="241.52" cy="354.85" r="1.3" fill="#3f90e0"/>
<circle cx="244.48" cy="357.35" r="1.3" fill="#3f90e0"/>
<circle cx="245.22" cy="358.59" r="1.3" fill="#3f90e0"/>
<circle cx="246.7" cy="352.91" r="1.3" fill="#3f90e0"/>
<circle cx="249.67" cy="357.23" r="1.3" fill="#3f90e0"/>
<circle cx="250.41" cy="358.45" r="1.3" fill="#3f90e0"/>
<circle cx="251.89" cy="351.98" r="1.3" fill="#3f90e0"/>
<circle cx="255.59" cy="358.81" r="1.3" fill="#3f90e0"/>
<circle cx="257.07" cy="351.11" r="1.3" fill="#3f90e0"/>
<circle cx="260.03" cy="357.99" r="1.3" fill="#3f90e0"/>
<circle cx="260.77" cy="358.03" r="1.3" fill="#3f90e0"/>
<circle cx="262.25" cy="350.7" r="1.3" fill="#3f90e0"/>
<circle cx="262.99" cy="350.9" r="1.3" fill="#3f90e0"/>
<circle cx="265.22" cy="356.6" r="1.3" fill="#3f90e0"/>
<circle cx="265.96" cy="357.05" r="1.3" fill="#3f90e0"/>
<circle cx="267.44" cy="349.43" r="1.3" fill="#3f90e0"/>
<circle cx="270.4" cy="356" r="1.3" fill="#3f90e0"/>
<circle cx="271.14" cy="357.33" r="1.3" fill="#3f90e0"/>
<circle cx="272.62" cy="349.23" r="1.3" fill="#3f90e0"/>
<circle cx="275.58" cy="355.13" r="1.3" fill="#3f90e0"/>
<circle cx="276.32" cy="355.88" r="1.3" fill="#3f90e0"/>
<circle cx="277.8" cy="347.51" r="1.3" fill="#3f90e0"/>
<circle cx="278.55" cy="348.83" r="1.3" fill="#3f90e0"/>
<circle cx="281.51" cy="356.49" r="1.3" fill="#3f90e0"/>
<circle cx="282.99" cy="347.04" r="1.3" fill="#3f90e0"/>
<circle cx="285.95" cy="354.81" r="1.3" fill="#3f90e0"/>
<circle cx="286.69" cy="354.83" r="1.3" fill="#3f90e0"/>
<circle cx="288.17" cy="345.38" r="1.3" fill="#3f90e0"/>
<circle cx="288.91" cy="346.66" r="1.3" fill="#3f90e0"/>
<circle cx="291.13" cy="351.09" r="1.3" fill="#3f90e0"/>
<circle cx="291.87" cy="352.48" r="1.3" fill="#3f90e0"/>
<circle cx="293.36" cy="339.72" r="1.3" fill="#3f90e0"/>
<circle cx="296.32" cy="346.38" r="1.3" fill="#3f90e0"/>
<circle cx="297.06" cy="346.52" r="1.3" fill="#3f90e0"/>
<circle cx="298.54" cy="333.07" r="1.3" fill="#3f90e0"/>
<circle cx="299.28" cy="335.16" r="1.3" fill="#3f90e0"/>
<circle cx="338.53" cy="355.23" r="1.3" fill="#3f90e0"/>
<circle cx="340.01" cy="347.87" r="1.3" fill="#3f90e0"/>
<circle cx="342.97" cy="356.13" r="1.3" fill="#3f90e0"/>
<circle cx="343.71" cy="357.23" r="1.3" fill="#3f90e0"/>
<circle cx="345.19" cy="349.22" r="1.3" fill="#3f90e0"/>
<circle cx="345.93" cy="351.34" r="1.3" fill="#3f90e0"/>
<circle cx="348.89" cy="358.46" r="1.3" fill="#3f90e0"/>
<circle cx="350.37" cy="348.94" r="1.3" fill="#3f90e0"/>
<circle cx="351.11" cy="350.84" r="1.3" fill="#3f90e0"/>
<circle cx="353.34" cy="357.55" r="1.3" fill="#3f90e0"/>
<circle cx="354.08" cy="357.61" r="1.3" fill="#3f90e0"/>
<circle cx="355.56" cy="349.53" r="1.3" fill="#3f90e0"/>
<circle cx="356.3" cy="350.08" r="1.3" fill="#3f90e0"/>
<circle cx="359.26" cy="357.93" r="1.3" fill="#3f90e0"/>
<circle cx="360.74" cy="349.52" r="1.3" fill="#3f90e0"/>
<circle cx="363.7" cy="357.26" r="1.3" fill="#3f90e0"/>
<circle cx="364.44" cy="358.34" r="1.3" fill="#3f90e0"/>
<circle cx="365.92" cy="350.26" r="1.3" fill="#3f90e0"/>
<circle cx="366.66" cy="350.86" r="1.3" fill="#3f90e0"/>
<circle cx="369.63" cy="359" r="1.3" fill="#3f90e0"/>
<circle cx="371.11" cy="351.38" r="1.3" fill="#3f90e0"/>
<circle cx="371.85" cy="352.45" r="1.3" fill="#3f90e0"/>
<circle cx="374.81" cy="359" r="1.3" fill="#3f90e0"/>
<circle cx="376.29" cy="351.18" r="1.3" fill="#3f90e0"/>
<circle cx="377.03" cy="353.29" r="1.3" fill="#3f90e0"/>
<circle cx="379.99" cy="358.77" r="1.3" fill="#3f90e0"/>
<circle cx="381.47" cy="349.65" r="1.3" fill="#3f90e0"/>
<circle cx="385.18" cy="357.08" r="1.3" fill="#3f90e0"/>
<circle cx="386.66" cy="347.67" r="1.3" fill="#3f90e0"/>
<circle cx="390.36" cy="355.89" r="1.3" fill="#3f90e0"/>
<circle cx="391.84" cy="347.75" r="1.3" fill="#3f90e0"/>
<circle cx="392.58" cy="348.97" r="1.3" fill="#3f90e0"/>
<circle cx="394.8" cy="355.35" r="1.3" fill="#3f90e0"/>
<circle cx="395.54" cy="356.28" r="1.3" fill="#3f90e0"/>
<circle cx="397.03" cy="346.89" r="1.3" fill="#3f90e0"/>
<circle cx="397.77" cy="349.1" r="1.3" fill="#3f90e0"/>
<circle cx="399.99" cy="355.05" r="1.3" fill="#3f90e0"/>
<circle cx="400.73" cy="356.33" r="1.3" fill="#3f90e0"/>
<circle cx="402.21" cy="344.9" r="1.3" fill="#3f90e0"/>
<circle cx="405.17" cy="352.9" r="1.3" fill="#3f90e0"/>
<circle cx="405.91" cy="353.62" r="1.3" fill="#3f90e0"/>
<circle cx="407.39" cy="342.06" r="1.3" fill="#3f90e0"/>
<circle cx="411.09" cy="351.02" r="1.3" fill="#3f90e0"/>
<circle cx="412.58" cy="339.24" r="1.3" fill="#3f90e0"/>
<circle cx="416.28" cy="349.29" r="1.3" fill="#3f90e0"/>
<circle cx="417.76" cy="337.16" r="1.3" fill="#3f90e0"/>
<circle cx="418.5" cy="339.15" r="1.3" fill="#3f90e0"/>
<circle cx="421.46" cy="346.54" r="1.3" fill="#3f90e0"/>
<circle cx="422.94" cy="334.72" r="1.3" fill="#3f90e0"/>
<circle cx="500.7" cy="329.59" r="1.3" fill="#3f90e0"/>
<circle cx="501.44" cy="333.46" r="1.3" fill="#3f90e0"/>
<circle cx="504.4" cy="343.97" r="1.3" fill="#3f90e0"/>
<circle cx="505.88" cy="337.44" r="1.3" fill="#3f90e0"/>
<circle cx="509.58" cy="350.8" r="1.3" fill="#3f90e0"/>
<circle cx="511.06" cy="344.43" r="1.3" fill="#3f90e0"/>
<circle cx="514.76" cy="354.22" r="1.3" fill="#3f90e0"/>
<circle cx="516.25" cy="346.09" r="1.3" fill="#3f90e0"/>
<circle cx="519.21" cy="353.37" r="1.3" fill="#3f90e0"/>
<circle cx="519.95" cy="355.16" r="1.3" fill="#3f90e0"/>
<circle cx="521.43" cy="348.27" r="1.3" fill="#3f90e0"/>
<circle cx="522.17" cy="348.9" r="1.3" fill="#3f90e0"/>
<circle cx="525.13" cy="355.72" r="1.3" fill="#3f90e0"/>
<circle cx="526.61" cy="347.93" r="1.3" fill="#3f90e0"/>
<circle cx="527.35" cy="349.9" r="1.3" fill="#3f90e0"/>
<circle cx="529.57" cy="356.91" r="1.3" fill="#3f90e0"/>
<circle cx="530.32" cy="357.83" r="1.3" fill="#3f90e0"/>
<circle cx="531.8" cy="351.12" r="1.3" fill="#3f90e0"/>
<circle cx="532.54" cy="352.35" r="1.3" fill="#3f90e0"/>
<circle cx="534.76" cy="359" r="1.3" fill="#3f90e0"/>
<circle cx="535.5" cy="359" r="1.3" fill="#3f90e0"/>
<circle cx="536.98" cy="351.68" r="1.3" fill="#3f90e0"/>
<circle cx="537.72" cy="352.7" r="1.3" fill="#3f90e0"/>
<circle cx="540.68" cy="355.66" r="1.3" fill="#3f90e0"/>
<circle cx="542.16" cy="347.53" r="1.3" fill="#3f90e0"/>
<circle cx="545.12" cy="359" r="1.3" fill="#3f90e0"/>
<circle cx="545.87" cy="358.54" r="1.3" fill="#3f90e0"/>
<circle cx="547.35" cy="349.36" r="1.3" fill="#3f90e0"/>
</svg></body></html>
